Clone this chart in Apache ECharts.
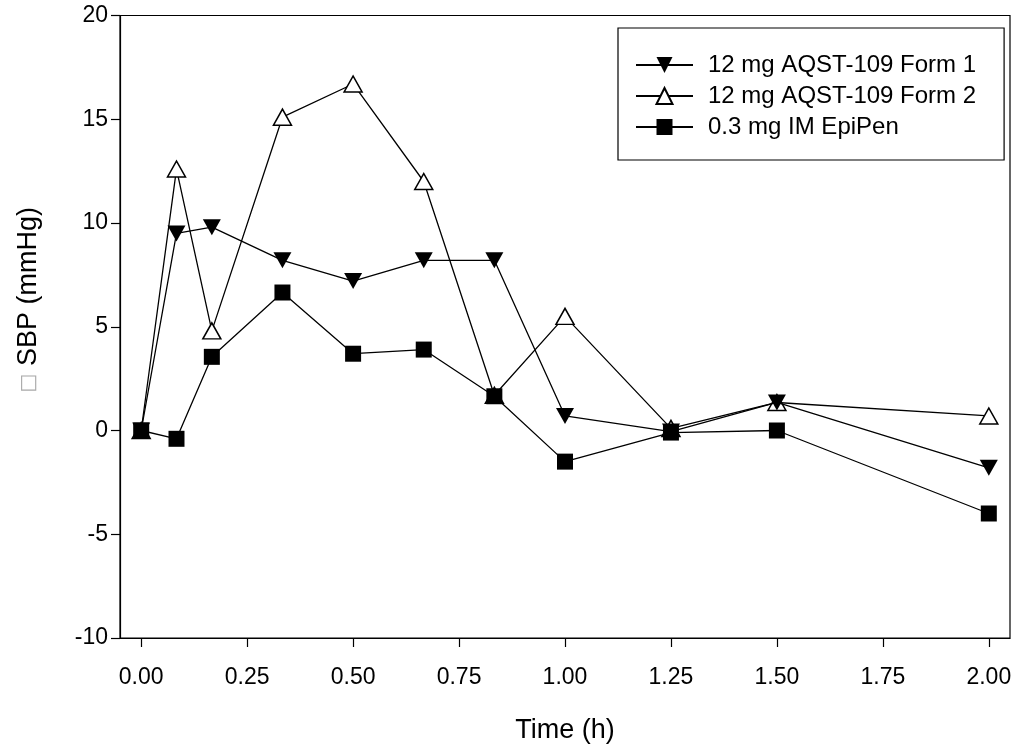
<!DOCTYPE html>
<html>
<head>
<meta charset="utf-8">
<script src="https://cdn.jsdelivr.net/npm/echarts@6/dist/echarts.min.js"></script>
<style>
html,body{margin:0;padding:0;background:#fff;}
#chart{width:1015px;height:749px;}
</style>
</head>
<body>
<div id="chart"></div>
<script>
// Time points (h)
const times = [0, 0.0833, 0.1667, 0.3333, 0.5, 0.6667, 0.8333, 1.0, 1.25, 1.5, 2.0];
const seriesNames = ['12 mg AQST-109 Form 1', '12 mg AQST-109 Form 2', '0.3 mg IM EpiPen'];
const form1 = [0, 9.5, 9.8, 8.2, 7.2, 8.2, 8.2, 0.7, -0.05, 1.35, -1.8];
const form2 = [0, 12.6, 4.8, 15.1, 16.7, 12.0, 1.7, 5.5, 0.1, 1.35, 0.7];
const epipen = [0, -0.4, 3.55, 6.65, 3.7, 3.9, 1.65, -1.5, -0.1, 0.0, -4.0];
const xTicks = [0, 0.25, 0.5, 0.75, 1.0, 1.25, 1.5, 1.75, 2.0];
const yTicks = [-10, -5, 0, 5, 10, 15, 20];
const xTitle = 'Time (h)';
const yTitle = '{box|\u25A1} SBP (mmHg)';

const FONT = 'Liberation Sans, Arial, Helvetica, sans-serif';
const pair = (vals) => times.map((t, i) => [t, vals[i]]);

const chart = echarts.init(document.getElementById('chart'), null, {renderer: 'canvas'});
chart.setOption({
  backgroundColor: '#fff',
  animation: false,
  grid: {
    left: 120, top: 15.5, right: 5, bottom: 109,
    show: true, borderColor: '#000', borderWidth: 1.2, backgroundColor: 'transparent'
  },
  legend: {
    left: 618, top: 28,
    orient: 'vertical',
    data: seriesNames,
    backgroundColor: '#fff',
    borderColor: '#000', borderWidth: 1.2,
    padding: [25, 28, 21, 17],
    itemWidth: 57, itemHeight: 20, itemGap: 7,
    textStyle: {fontFamily: FONT, fontSize: 24, color: '#000', lineHeight: 24, padding: [0, 0, 0, 10]},
    selectedMode: false
  },
  xAxis: {
    type: 'value',
    min: -0.05, max: 2.05,
    name: xTitle, nameLocation: 'middle', nameGap: 79,
    nameTextStyle: {fontFamily: FONT, fontSize: 27, color: '#000'},
    axisLine: {show: true, onZero: false, lineStyle: {color: '#000', width: 1.2}},
    axisTick: {show: true, inside: false, length: 9, customValues: xTicks, lineStyle: {color: '#000', width: 1.2}},
    axisLabel: {customValues: xTicks, margin: 28, fontFamily: FONT, fontSize: 23, color: '#000',
      formatter: (v) => v.toFixed(2)},
    splitLine: {show: false}
  },
  yAxis: {
    type: 'value',
    min: -10, max: 20, interval: 5,
    name: yTitle, nameLocation: 'middle', nameGap: 78,
    nameTextStyle: {fontFamily: FONT, fontSize: 27, color: '#000', padding: [0, 0, 0, 54],
      rich: {box: {fontFamily: 'DejaVu Sans', fontSize: 20, color: '#aaa'}}},
    axisLine: {show: true, onZero: false, lineStyle: {color: '#000', width: 1.2}},
    axisTick: {show: true, inside: false, length: 9, lineStyle: {color: '#000', width: 1.2}},
    axisLabel: {margin: 12, fontFamily: FONT, fontSize: 23, color: '#000'},
    splitLine: {show: false}
  },
  series: [
    {
      name: seriesNames[0], type: 'line', data: pair(form1), z: 3,
      symbol: 'triangle', symbolRotate: 180, symbolSize: [18, 16],
      lineStyle: {color: '#000', width: 1.3},
      itemStyle: {color: '#000', borderColor: '#000', borderWidth: 0}
    },
    {
      name: seriesNames[1], type: 'line', data: pair(form2), z: 2,
      symbol: 'triangle', symbolSize: [18, 16],
      lineStyle: {color: '#000', width: 1.3},
      itemStyle: {color: '#fff', borderColor: '#000', borderWidth: 1.5}
    },
    {
      name: seriesNames[2], type: 'line', data: pair(epipen), z: 4,
      symbol: 'rect', symbolSize: 16,
      lineStyle: {color: '#000', width: 1.3},
      itemStyle: {color: '#000', borderColor: '#000', borderWidth: 0}
    }
  ]
});
</script>
</body>
</html>
